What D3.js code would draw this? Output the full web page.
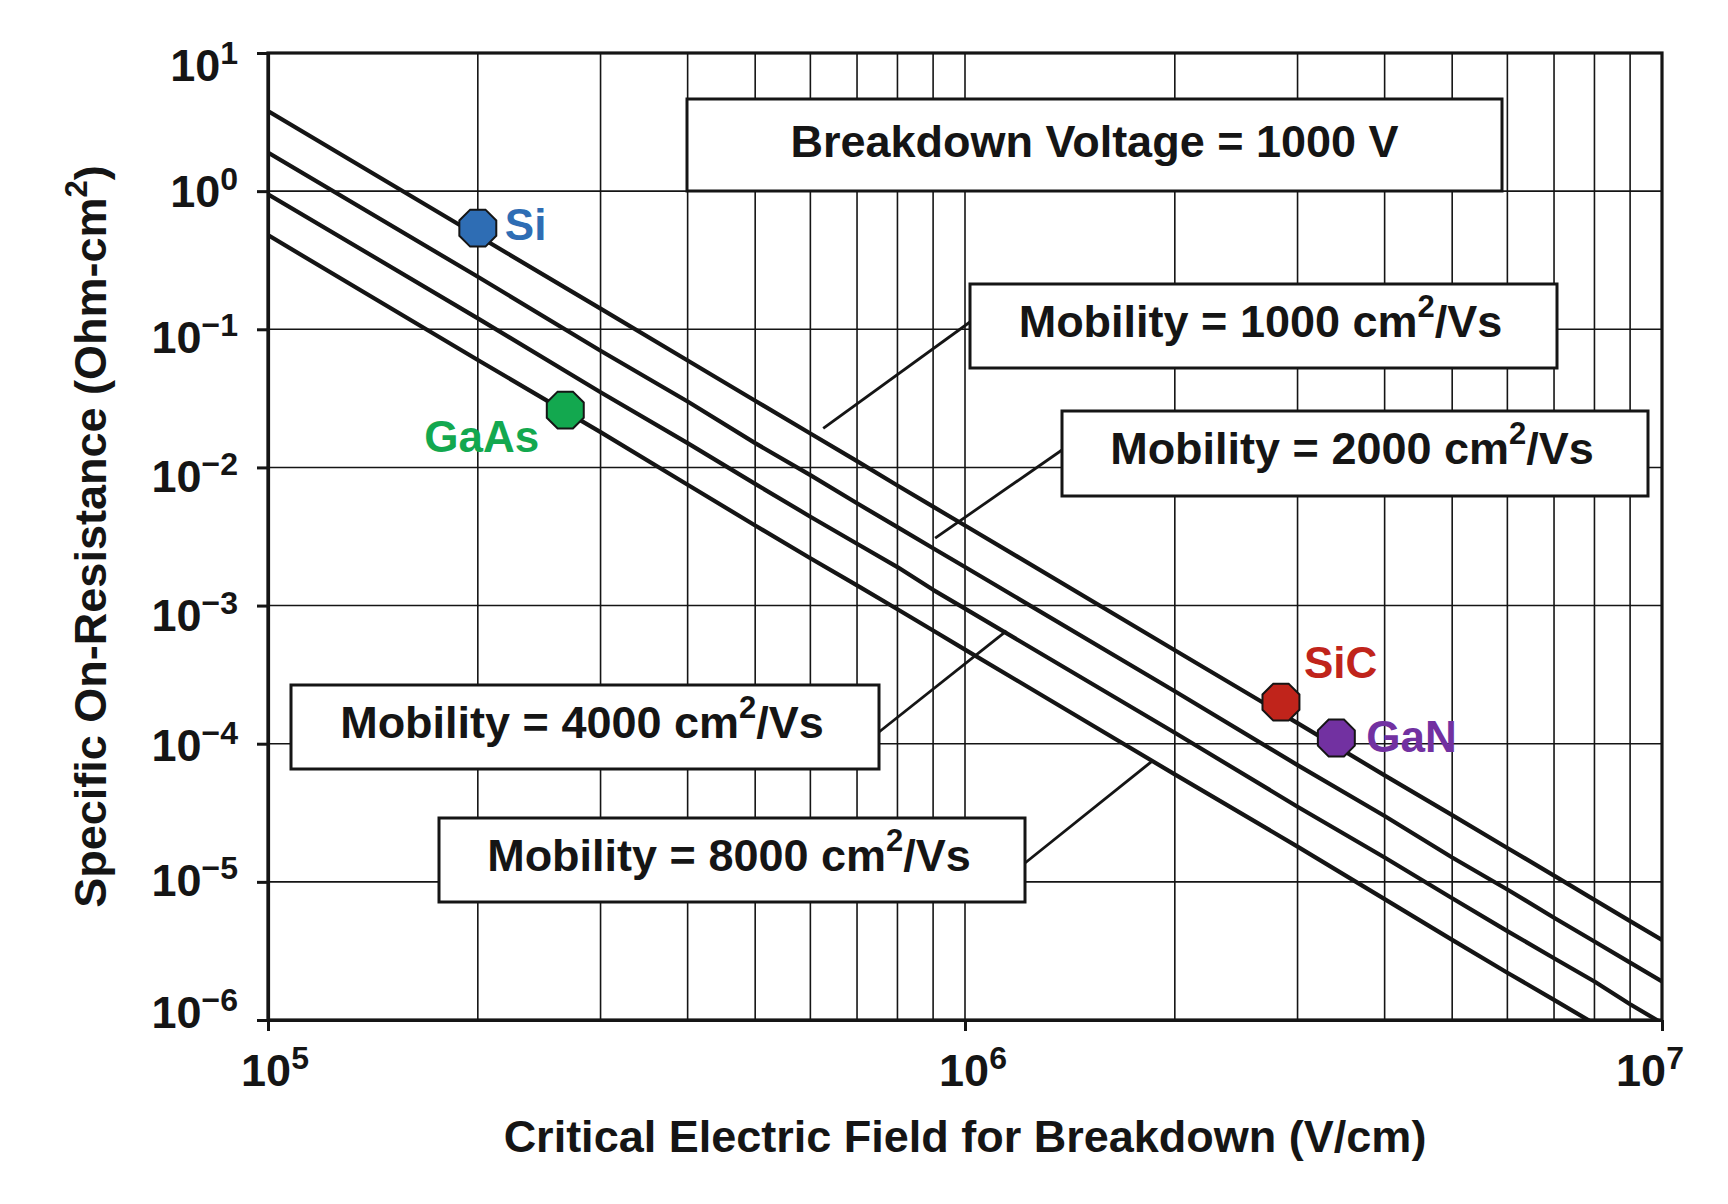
<!DOCTYPE html>
<html>
<head>
<meta charset="utf-8">
<script src="https://cdn.jsdelivr.net/npm/d3@7"></script>
<style>
  body { margin: 0; background: #fff; }
  svg text { font-family: "Liberation Sans", Arial, Helvetica, sans-serif; font-weight: bold; fill: #151515; }
</style>
</head>
<body>
<svg id="chart"></svg>
<script>
// field values where the curves were read (the vertical grid lines)
const fieldPts = [1e5, 2e5, 3e5, 4e5, 5e5, 6e5, 7e5, 8e5, 9e5,
                  1e6, 2e6, 3e6, 4e6, 5e6, 6e6, 7e6, 8e6, 9e6, 1e7];

// specific on-resistance (Ohm-cm2)
const ron1000 = [3.8, 0.475, 0.141, 0.0594, 0.0304, 0.0176, 0.0111, 0.0074, 0.0052,
                 0.0038, 4.75e-4, 1.41e-4, 5.9e-5, 3.04e-5, 1.76e-5, 1.11e-5, 7.4e-6, 5.2e-6, 3.8e-6];
const ron2000 = [1.9, 0.24, 0.07, 0.03, 0.015, 0.0088, 0.0055, 0.0037, 0.0026,
                 0.0019, 2.4e-4, 7.0e-5, 3.0e-5, 1.5e-5, 8.8e-6, 5.5e-6, 3.7e-6, 2.6e-6, 1.9e-6];
const ron4000 = [0.95, 0.12, 0.035, 0.015, 0.0076, 0.0044, 0.0028, 0.0019, 0.0013,
                 9.5e-4, 1.2e-4, 3.5e-5, 1.5e-5, 7.6e-6, 4.4e-6, 2.8e-6, 1.9e-6, 1.3e-6, 9.5e-7];
const ron8000 = [0.48, 0.06, 0.018, 0.0075, 0.0038, 0.0022, 0.0014, 9.4e-4, 6.6e-4,
                 4.8e-4, 6.0e-5, 1.8e-5, 7.5e-6, 3.8e-6, 2.2e-6, 1.4e-6, 9.4e-7, 6.6e-7, 4.8e-7];
const mobilities = [1000, 2000, 4000, 8000];

// material points
const materials = ["Si", "GaAs", "SiC", "GaN"];
const matField  = [2.0e5, 2.67e5, 2.84e6, 3.41e6];
const matRon    = [0.54, 0.026, 2.0e-4, 1.1e-4];

// where each mobility pointer touches its curve
const pointerField = [6.26e5, 9.06e5, 1.147e6, 1.854e6];
const pointerRon   = [0.0192, 3.08e-3, 6.56e-4, 7.46e-5];

// ticks
const xDecades = [1e5, 1e6, 1e7];
const xExp = ["5", "6", "7"];
const yDecades = [1e1, 1e0, 1e-1, 1e-2, 1e-3, 1e-4, 1e-5, 1e-6];
const yExp = ["1", "0", "\u22121", "\u22122", "\u22123", "\u22124", "\u22125", "\u22126"];

const width = 1728, height = 1204;
const plot = {left: 268, right: 1662, top: 53, bottom: 1020};
const ink = "#151515";
const matColor = {Si: "#2e6db4", GaAs: "#13a84f", SiC: "#c0241b", GaN: "#7231a1"};

const svg = d3.select("#chart").attr("width", width).attr("height", height);
svg.append("rect").attr("width", width).attr("height", height).attr("fill", "#fff");

const x = d3.scaleLog().domain([1e5, 1e7]).range([plot.left, plot.right]);
const y = d3.scaleLog().domain([1e-6, 1e1]).range([plot.bottom, plot.top]);

svg.append("clipPath").attr("id", "clip")
  .append("rect")
  .attr("x", plot.left).attr("y", plot.top)
  .attr("width", plot.right - plot.left).attr("height", plot.bottom - plot.top);

// grid
const grid = svg.append("g");
grid.selectAll("line.v")
  .data(x.ticks().filter(d => d > 1e5 && d < 1e7))
  .enter().append("line")
  .attr("x1", d => x(d)).attr("x2", d => x(d))
  .attr("y1", plot.top).attr("y2", plot.bottom)
  .attr("stroke", ink).attr("stroke-width", 1.6);
grid.selectAll("line.h")
  .data(yDecades.slice(1, -1))
  .enter().append("line")
  .attr("y1", d => y(d)).attr("y2", d => y(d))
  .attr("x1", plot.left).attr("x2", plot.right)
  .attr("stroke", ink).attr("stroke-width", 1.6);

// curves
const curves = [ron1000, ron2000, ron4000, ron8000];
const line = d3.line().x(d => x(d[0])).y(d => y(d[1]));
svg.append("g").attr("clip-path", "url(#clip)")
  .selectAll("path")
  .data(curves)
  .enter().append("path")
  .attr("d", vals => line(fieldPts.map((f, i) => [f, vals[i]])))
  .attr("fill", "none")
  .attr("stroke", ink)
  .attr("stroke-width", 4.2)
  .attr("stroke-linejoin", "round");

// annotation boxes
const boxes = [
  {x: 970,  y: 284, w: 587, h: 84, from: [970, 322]},
  {x: 1062, y: 411, w: 586, h: 85, from: [1062, 450]},
  {x: 291,  y: 685, w: 588, h: 84, from: [879, 732]},
  {x: 439,  y: 818, w: 586, h: 84, from: [1025, 863]}
];

// pointer lines
svg.append("g").selectAll("line")
  .data(boxes)
  .enter().append("line")
  .attr("x1", d => d.from[0]).attr("y1", d => d.from[1])
  .attr("x2", (d, i) => x(pointerField[i])).attr("y2", (d, i) => y(pointerRon[i]))
  .attr("stroke", ink).attr("stroke-width", 2.8);

function drawBox(b) {
  svg.append("rect")
    .attr("x", b.x).attr("y", b.y).attr("width", b.w).attr("height", b.h)
    .attr("fill", "#fff").attr("stroke", ink).attr("stroke-width", 3);
}

drawBox({x: 687, y: 99, w: 815, h: 92});
svg.append("text")
  .attr("x", 687 + 815 / 2).attr("y", 157)
  .attr("text-anchor", "middle").attr("font-size", 45)
  .text("Breakdown Voltage = 1000 V");

boxes.forEach((b, i) => {
  drawBox(b);
  const t = svg.append("text")
    .attr("x", b.x + b.w / 2 - 3).attr("y", b.y + 53)
    .attr("text-anchor", "middle").attr("font-size", 45);
  t.append("tspan").text("Mobility = " + mobilities[i] + " cm");
  t.append("tspan").attr("font-size", 31).attr("dy", -20).text("2");
  t.append("tspan").attr("dy", 20).text("/Vs");
});

// frame and axes
svg.append("rect")
  .attr("x", plot.left).attr("y", plot.top)
  .attr("width", plot.right - plot.left).attr("height", plot.bottom - plot.top)
  .attr("fill", "none").attr("stroke", ink).attr("stroke-width", 3.2);

const yAxis = svg.append("g")
  .attr("transform", "translate(" + plot.left + ",0)")
  .call(d3.axisLeft(y).tickValues(yDecades).tickSize(11).tickSizeOuter(0).tickFormat(""));
const xAxis = svg.append("g")
  .attr("transform", "translate(0," + plot.bottom + ")")
  .call(d3.axisBottom(x).tickValues(xDecades).tickSize(11).tickSizeOuter(0).tickFormat(""));
[yAxis, xAxis].forEach(a => {
  a.select(".domain").attr("stroke", ink).attr("stroke-width", 3.2);
  a.selectAll(".tick line").attr("stroke", ink).attr("stroke-width", 3);
});

// tick labels
const yNudge = [28, 16, 24, 25, 25, 17, 14, 8];
yDecades.forEach((v, i) => {
  const t = svg.append("text")
    .attr("x", 238).attr("y", y(v) + yNudge[i])
    .attr("text-anchor", "end").attr("font-size", 45);
  t.append("tspan").text("10");
  t.append("tspan").attr("font-size", 32).attr("dy", -17).text(yExp[i]);
});

const xNudge = [7, 8, -12];
xDecades.forEach((v, i) => {
  const t = svg.append("text")
    .attr("x", x(v) + xNudge[i]).attr("y", 1086)
    .attr("text-anchor", "middle").attr("font-size", 45);
  t.append("tspan").text("10");
  t.append("tspan").attr("font-size", 32).attr("dy", -17).text(xExp[i]);
});

// axis titles
svg.append("text")
  .attr("x", (plot.left + plot.right) / 2).attr("y", 1152)
  .attr("text-anchor", "middle").attr("font-size", 45)
  .text("Critical Electric Field for Breakdown (V/cm)");

const yt = svg.append("text")
  .attr("transform", "translate(106," + (plot.top + plot.bottom) / 2 + ") rotate(-90)")
  .attr("text-anchor", "middle").attr("font-size", 45);
yt.append("tspan").text("Specific On-Resistance (Ohm-cm");
yt.append("tspan").attr("font-size", 31).attr("dy", -19).text("2");
yt.append("tspan").attr("dy", 19).text(")");

// material markers (octagons)
const R = 20;
const octagon = d3.range(8).map(k => {
  const a = Math.PI / 8 + k * Math.PI / 4;
  return [R * Math.cos(a), R * Math.sin(a)];
});
const octPath = "M" + octagon.map(p => p.join(",")).join("L") + "Z";

const labelPos = {
  Si:   {dx: 27,  dy: 12, anchor: "start"},
  GaAs: {dx: -26, dy: 42, anchor: "end"},
  SiC:  {dx: 23,  dy: -24, anchor: "start"},
  GaN:  {dx: 30,  dy: 14, anchor: "start"}
};

materials.forEach((m, i) => {
  const cx = x(matField[i]), cy = y(matRon[i]);
  svg.append("path")
    .attr("d", octPath)
    .attr("transform", "translate(" + cx + "," + cy + ")")
    .attr("fill", matColor[m]).attr("stroke", ink).attr("stroke-width", 2);
  svg.append("text")
    .attr("x", cx + labelPos[m].dx).attr("y", cy + labelPos[m].dy)
    .attr("text-anchor", labelPos[m].anchor)
    .attr("font-size", 44)
    .style("fill", matColor[m])
    .text(m);
});
</script>
</body>
</html>
